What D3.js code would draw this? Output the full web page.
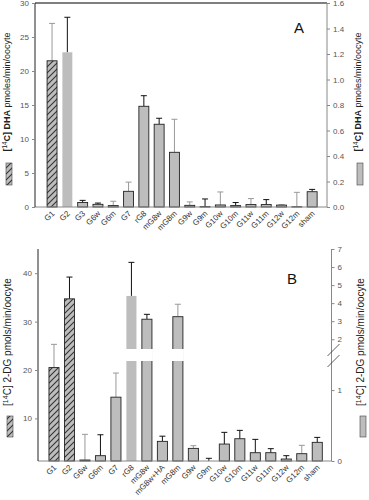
<!DOCTYPE html>
<html>
<head>
<meta charset="utf-8">
<script src="https://cdn.jsdelivr.net/npm/d3@7"></script>
<style>
  body { margin: 0; background: #fff; }
  svg { font-family: "Liberation Sans", Arial, sans-serif; }
  .tick text { fill: #555; font-size: 8px; }
</style>
</head>
<body>
<div id="chart"></div>
<script>
// panel A data: G1/G2 read on left axis (pmoles), rest on right axis
var catsA = ["G1", "G2", "G3", "G6w", "G6m", "G7", "rG8", "mG8w", "mG8m", "G9w", "G9m", "G10w", "G10m", "G11w", "G11m", "G12w", "G12m", "sham"];
var valsA = [21.5, 22.75, 0.035, 0.021, 0.011, 0.123, 0.79, 0.649, 0.429, 0.013, 0.003, 0.016, 0.011, 0.019, 0.019, 0.015, 0.002, 0.12];
var errA  = [27.0, 27.9, 0.052, 0.031, 0.045, 0.195, 0.873, 0.696, 0.688, 0.04, 0.063, 0.118, 0.035, 0.066, 0.058, 0.018, 0.115, 0.138];
var leftA = ["G1", "G2"];
var hatchA = ["G1"];
var greyErrA = ["G1", "G6m", "G7", "mG8m", "G9w", "G10w", "G11w", "G12w", "G12m"];
var noOutlineA = ["G2"];
var ticksLeftA = [0, 5, 10, 15, 20, 25, 30];
var ticksRightA = [0, 0.2, 0.4, 0.6, 0.8, 1.0, 1.2, 1.4, 1.6];

// panel B data: G1/G2 on left axis, rest on right (broken) axis
var catsB = ["G1", "G2", "G6w", "G6m", "G7", "rG8", "mG8w", "mG8w+HA", "mG8m", "G9w", "G9m", "G10w", "G10m", "G11w", "G11m", "G12w", "G12m", "sham"];
var valsB = [20.5, 34.7, 0.014, 0.075, 0.90, 4.4, 3.11, 0.277, 3.25, 0.178, 0.0, 0.239, 0.314, 0.117, 0.117, 0.028, 0.103, 0.263];
var errB  = [25.3, 39.2, 0.376, 0.37, 1.24, 6.26, 3.38, 0.35, 3.94, 0.216, 0.038, 0.404, 0.432, 0.305, 0.174, 0.075, 0.221, 0.333];
var leftB = ["G1", "G2"];
var hatchB = ["G1", "G2"];
var greyErrB = ["G1", "G6w", "G7", "mG8m", "G9w", "G12m"];
var noOutlineB = ["rG8"];
var ticksLeftB = [10, 20, 30, 40];
var ticksRightB = [0, 1, 2, 3, 4, 5, 6, 7];

var W = 369, H = 500;
var grey = "#bdbdbd", axisGrey = "#888";

var svg = d3.select("#chart").append("svg")
    .attr("width", W)
    .attr("height", H);

var defs = svg.append("defs");
var pat = defs.append("pattern")
    .attr("id", "hatch")
    .attr("patternUnits", "userSpaceOnUse")
    .attr("width", 6)
    .attr("height", 6);
pat.append("rect").attr("width", 6).attr("height", 6).attr("fill", grey);
pat.append("path")
    .attr("d", "M0,6 L6,0 M-1,1 L1,-1 M5,7 L7,5")
    .attr("stroke", "#333")
    .attr("stroke-width", 1.1);

function drawPanel(cfg) {
    var g = svg.append("g");
    var x = d3.scaleBand().domain(cfg.cats).range(cfg.xRange)
        .paddingInner(0.35).paddingOuter(0.175);
    var bw = x.bandwidth();

    var data = cfg.cats.map(function(c, i) {
        return { cat: c, v: cfg.vals[i], e: cfg.errs[i], left: cfg.left.indexOf(c) >= 0 };
    });

    function ys(d) { return d.left ? cfg.yLeft : cfg.yRight; }

    // error bars
    var eb = g.selectAll(".err").data(data).enter().append("g")
        .attr("stroke", function(d) { return cfg.greyErr.indexOf(d.cat) >= 0 ? "#999" : "#111"; })
        .attr("stroke-width", 1);
    eb.append("line")
        .attr("x1", function(d) { return x(d.cat) + bw / 2; })
        .attr("x2", function(d) { return x(d.cat) + bw / 2; })
        .attr("y1", function(d) { return ys(d)(d.v); })
        .attr("y2", function(d) { return ys(d)(d.e); });
    eb.append("line")
        .attr("x1", function(d) { return x(d.cat) + bw / 2 - 3; })
        .attr("x2", function(d) { return x(d.cat) + bw / 2 + 3; })
        .attr("y1", function(d) { return ys(d)(d.e); })
        .attr("y2", function(d) { return ys(d)(d.e); });

    // bars
    g.selectAll(".bar").data(data).enter().append("rect")
        .attr("x", function(d) { return x(d.cat); })
        .attr("width", bw)
        .attr("y", function(d) { return ys(d)(d.v); })
        .attr("height", function(d) { return Math.max(0, cfg.base - ys(d)(d.v)); })
        .attr("fill", function(d) { return cfg.hatch.indexOf(d.cat) >= 0 ? "url(#hatch)" : grey; })
        .attr("stroke", function(d) { return cfg.noOutline.indexOf(d.cat) >= 0 ? "none" : "#222"; })
        .attr("stroke-width", 0.9);

    // axis break gap through right-axis bars that cross it
    if (cfg.gap) {
        g.selectAll(".gap").data(data.filter(function(d) {
                return !d.left && cfg.yRight(d.v) < cfg.gap[0];
            })).enter().append("rect")
            .attr("x", function(d) { return x(d.cat) - 1; })
            .attr("width", bw + 2)
            .attr("y", cfg.gap[0]).attr("height", cfg.gap[1] - cfg.gap[0])
            .attr("fill", "#fff");
    }

    // bottom baseline
    g.append("line")
        .attr("x1", cfg.xLeft).attr("x2", cfg.xRight)
        .attr("y1", cfg.base).attr("y2", cfg.base)
        .attr("stroke", axisGrey);

    // top border (panel A)
    if (cfg.topLine != null) {
        g.append("line")
            .attr("x1", cfg.xLeft).attr("x2", cfg.xRight)
            .attr("y1", cfg.topLine).attr("y2", cfg.topLine)
            .attr("stroke", "#000").attr("stroke-width", 1.2);
    }

    // left axis
    var la = g.append("g")
        .attr("transform", "translate(" + cfg.xLeft + ",0)")
        .call(d3.axisLeft(cfg.yLeft).tickValues(cfg.ticksLeft).tickSize(3).tickPadding(3).tickSizeOuter(0));
    la.select(".domain").attr("stroke", "#222").attr("d", "M0," + cfg.leftTop + "V" + cfg.base);
    la.selectAll(".tick line").attr("stroke", axisGrey);

    // right axis
    var ra = g.append("g")
        .attr("transform", "translate(" + cfg.xRight + ",0)")
        .call(d3.axisRight(cfg.yRight).tickValues(cfg.ticksRight).tickSize(3).tickPadding(3).tickSizeOuter(0)
            .tickFormat(cfg.rightFmt));
    ra.select(".domain").attr("stroke", axisGrey).attr("d", "M0," + cfg.rightTop + "V" + cfg.base);
    ra.selectAll(".tick line").attr("stroke", axisGrey);

    if (cfg.gap) {
        g.selectAll(".brk").data([0, 11]).enter().append("line")
            .attr("x1", cfg.xRight - 4).attr("x2", cfg.xRight + 8)
            .attr("y1", function(d) { return 356 + d; })
            .attr("y2", function(d) { return 344 + d; })
            .attr("stroke", "#333").attr("stroke-width", 0.8);
    }

    // category labels
    g.selectAll(".cat").data(cfg.cats).enter().append("text")
        .attr("transform", function(d) {
            return "translate(" + (x(d) + bw / 2 + 3) + "," + (cfg.base + 7) + ") rotate(-45)";
        })
        .attr("text-anchor", "end")
        .attr("font-size", 8)
        .attr("fill", "#333")
        .text(function(d) { return d; });

    // axis titles
    function title(xp, yc) {
        var t = g.append("text")
            .attr("transform", "translate(" + xp + "," + yc + ") rotate(-90)")
            .attr("text-anchor", "middle")
            .attr("font-size", cfg.titleSize)
            .attr("fill", "#222");
        t.append("tspan").text("[").attr("font-weight", cfg.boldHead ? "bold" : "normal");
        t.append("tspan").text("14").attr("font-size", cfg.titleSize * 0.7).attr("dy", -3);
        t.append("tspan").text("C] " + cfg.head).attr("dy", 3).attr("font-weight", cfg.boldHead ? "bold" : "normal");
        t.append("tspan").text(" " + cfg.unit);
    }
    title(cfg.titleLeftX, cfg.titleY);
    title(cfg.titleRightX, cfg.titleY);

    // legend swatches
    g.append("rect")
        .attr("x", cfg.titleLeftX - 4).attr("y", cfg.swatch[0])
        .attr("width", 6).attr("height", cfg.swatch[1] - cfg.swatch[0])
        .attr("fill", "url(#hatch)").attr("stroke", "#444").attr("stroke-width", 0.6);
    g.append("rect")
        .attr("x", cfg.titleRightX - 4).attr("y", cfg.swatch[0])
        .attr("width", 6).attr("height", cfg.swatch[1] - cfg.swatch[0])
        .attr("fill", grey).attr("stroke", "#444").attr("stroke-width", 0.6);

    // panel letter
    g.append("text")
        .attr("x", cfg.letter[0]).attr("y", cfg.letter[1])
        .attr("font-size", 15).attr("fill", "#111")
        .text(cfg.name);
}

drawPanel({
    name: "A", letter: [294, 33],
    cats: catsA, vals: valsA, errs: errA, left: leftA, hatch: hatchA,
    greyErr: greyErrA, noOutline: noOutlineA,
    xRange: [44.4, 319.8], xLeft: 35, xRight: 327, base: 207,
    yLeft: d3.scaleLinear().domain([0, 30]).range([207, 3]),
    yRight: d3.scaleLinear().domain([0, 1.6]).range([207, 3]),
    ticksLeft: ticksLeftA, ticksRight: ticksRightA, rightFmt: d3.format(".1f"),
    leftTop: 3, rightTop: 3, topLine: 3,
    titleLeftX: 10, titleRightX: 361, titleY: 92, titleSize: 9, boldHead: true,
    head: "DHA", unit: "pmoles/min/oocyte", swatch: [163, 185]
});

drawPanel({
    name: "B", letter: [287, 284],
    cats: catsB, vals: valsB, errs: errB, left: leftB, hatch: hatchB,
    greyErr: greyErrB, noOutline: noOutlineB,
    xRange: [46.25, 325], xLeft: 38, xRight: 331.5, base: 461,
    yLeft: d3.scaleLinear().domain([1.2, 45]).range([461, 249]),
    yRight: d3.scaleLinear().domain([0, 1.41, 1.46, 7]).range([461, 361, 349, 249]),
    ticksLeft: ticksLeftB, ticksRight: ticksRightB, rightFmt: d3.format("d"),
    leftTop: 249, rightTop: 249, topLine: null, gap: [349, 361],
    titleLeftX: 11, titleRightX: 364, titleY: 342, titleSize: 10, boldHead: false,
    head: "2-DG", unit: "pmols/min/oocyte", swatch: [416, 437]
});
</script>
</body>
</html>
